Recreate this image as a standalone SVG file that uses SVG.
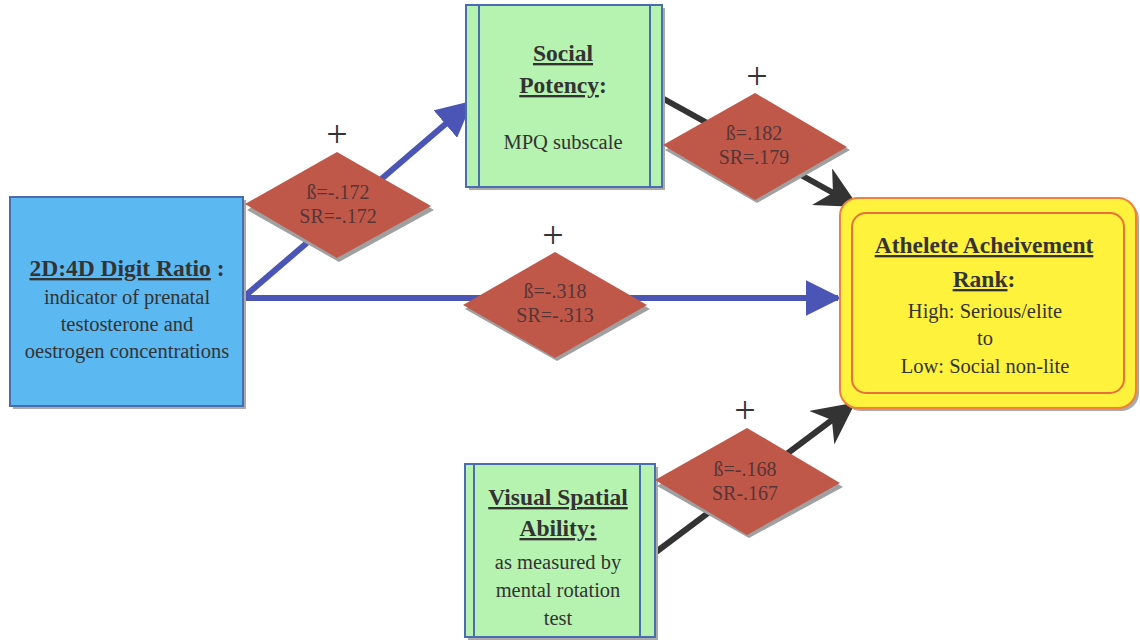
<svg xmlns="http://www.w3.org/2000/svg" width="1140" height="644" viewBox="0 0 1140 644">
<style>
text{font-family:"Liberation Serif","DejaVu Serif",serif;fill:#333;text-anchor:middle}
.h{font-weight:bold;font-size:23.5px}
.u{text-decoration:underline}
.b{font-size:20.5px}
.d{font-size:20px;fill:#553535}
.p{font-size:38px;fill:#333}
.dia{fill:#c0584a}
.sh{fill:#a0a0a0}
.blue{stroke:#4b55b5;stroke-width:6;fill:none}
.dark{stroke:#333;stroke-width:6;fill:none}
</style>
<defs>
<marker id="ab" viewBox="0 0 10 10" refX="9" refY="5" markerWidth="6" markerHeight="6" orient="auto" markerUnits="strokeWidth"><path d="M0,0 L10,5 L0,10 Z" fill="#4b55b5"/></marker>
<marker id="ad" viewBox="0 0 10 10" refX="9" refY="5" markerWidth="7" markerHeight="7" orient="auto" markerUnits="strokeWidth"><path d="M0,0 L10,5 L0,10 L3,5 Z" fill="#333"/></marker>
</defs>
<rect width="1140" height="644" fill="#fff"/>
<g id="connectors">
<path class="blue" d="M245,296 L470,103" marker-end="url(#ab)"/>
<path class="blue" d="M245,298 L838,298" marker-end="url(#ab)"/>
<path class="dark" d="M662,98 L855,205" marker-end="url(#ad)"/>
<path class="dark" d="M656,552 L852,405" marker-end="url(#ad)"/>
</g>
<g id="n-digit">
<rect x="13" y="200" width="233" height="209" fill="#aaa"/>
<rect x="10" y="197" width="233" height="209" fill="#5cb8f0" stroke="#4a6db0" stroke-width="2"/>
<text class="h" x="127" y="276"><tspan class="u">2D:4D Digit Ratio</tspan> :</text>
<text class="b" x="127" y="304">indicator of prenatal</text>
<text class="b" x="127" y="331">testosterone and</text>
<text class="b" x="127" y="358">oestrogen concentrations</text>
</g>
<g id="n-social">
<rect x="469" y="8" width="196" height="182" fill="#aaa"/>
<rect x="466" y="5" width="196" height="182" fill="#b6f2b0" stroke="#4a6db0" stroke-width="2"/>
<line x1="479" y1="5" x2="479" y2="187" stroke="#4a6db0" stroke-width="2"/>
<line x1="650" y1="5" x2="650" y2="187" stroke="#4a6db0" stroke-width="2"/>
<text class="h" x="563" y="61"><tspan class="u">Social</tspan></text>
<text class="h" x="563" y="93"><tspan class="u">Potency</tspan>:</text>
<text class="b" x="563" y="149">MPQ subscale</text>
</g>
<g id="n-visual">
<rect x="468" y="467" width="190" height="173" fill="#aaa"/>
<rect x="465" y="464" width="190" height="173" fill="#b6f2b0" stroke="#4a6db0" stroke-width="2"/>
<line x1="474" y1="464" x2="474" y2="637" stroke="#4a6db0" stroke-width="2"/>
<line x1="640" y1="464" x2="640" y2="637" stroke="#4a6db0" stroke-width="2"/>
<text class="h" x="558" y="505"><tspan class="u">Visual Spatial</tspan></text>
<text class="h" x="558" y="536"><tspan class="u">Ability: </tspan></text>
<text class="b" x="558" y="569">as measured by</text>
<text class="b" x="558" y="597">mental rotation</text>
<text class="b" x="558" y="625">test</text>
</g>
<g id="n-athlete">
<rect x="843" y="201" width="296" height="210" rx="18" fill="#aaa"/>
<rect x="840" y="198" width="296" height="210" rx="18" fill="#fff23c" stroke="#f0803a" stroke-width="2"/>
<rect x="852" y="213" width="272" height="180" rx="14" fill="none" stroke="#e8703a" stroke-width="2"/>
<text class="h" x="984" y="253"><tspan class="u">Athelete Acheivement </tspan></text>
<text class="h" x="984" y="287"><tspan class="u"> Rank</tspan>:</text>
<text class="b" x="985" y="318">High: Serious/elite</text>
<text class="b" x="985" y="345">to</text>
<text class="b" x="985" y="373">Low: Social non-lite</text>
</g>
<g id="d1">
<path class="sh" d="M339,155 L434,210 L339,262 L247,210 Z"/>
<path class="dia" d="M337,152 L431,206 L337,258 L245,204 Z"/>
<text class="p" x="337" y="147">+</text>
<text class="d" x="338" y="199">ß=-.172</text>
<text class="d" x="338" y="223">SR=-.172</text>
</g>
<g id="d2">
<path class="sh" d="M757,96 L850,150 L757,203 L665,150 Z"/>
<path class="dia" d="M755,93 L847,147 L755,200 L663,145 Z"/>
<text class="p" x="757" y="89">+</text>
<text class="d" x="754" y="140">ß=.182</text>
<text class="d" x="754" y="164">SR=.179</text>
</g>
<g id="d3">
<path class="sh" d="M557,255 L650,309 L557,361 L465,309 Z"/>
<path class="dia" d="M555,252 L647,305 L555,358 L463,305 Z"/>
<text class="p" x="553" y="248">+</text>
<text class="d" x="555" y="298">ß=-.318</text>
<text class="d" x="555" y="322">SR=-.313</text>
</g>
<g id="d4">
<path class="sh" d="M749,431 L843,487 L749,538 L657,486 Z"/>
<path class="dia" d="M747,428 L840,483 L747,535 L655,480 Z"/>
<text class="p" x="745" y="423">+</text>
<text class="d" x="745" y="476">ß=-.168</text>
<text class="d" x="745" y="500">SR-.167</text>
</g>
</svg>
